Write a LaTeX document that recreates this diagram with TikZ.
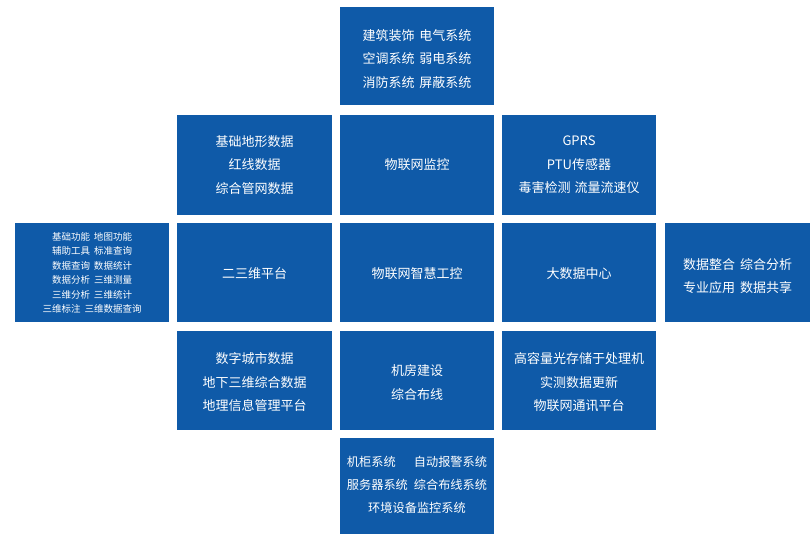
\documentclass[tikz,border=0pt]{standalone}
\usepackage{fontspec}
\newfontfamily\cjk{Noto Sans CJK SC}
\definecolor{boxblue}{RGB}{15,90,168}
\begin{document}
\begin{tikzpicture}[x=1pt,y=1pt,
  cell/.style={fill=boxblue, inner sep=0pt},
  txt/.style={text=white, inner sep=0pt, align=center,
    font=\cjk\fontsize{13}{23.5}\selectfont},
  smalltxt/.style={txt, font=\cjk\fontsize{9.5}{14.5}\selectfont},
  wA/.style={minimum width=154pt},
  wB/.style={minimum width=155pt},
  wE/.style={minimum width=145pt},
]
\useasboundingbox[fill=white] (0,0) rectangle (810,534);
% row 0
\node[cell, wA, minimum height=98pt] (top) at (417,478) {};
\node[txt] (topT) at ([yshift=-3pt]top.center)
  {建筑装饰\hspace{5pt}电气系统\\空调系统\hspace{5pt}弱电系统\\消防系统\hspace{5pt}屏蔽系统};
% row 1
\node[cell, wB, minimum height=100pt] (r1a) at (254.5,369) {};
\node[txt] (r1aT) at (r1a.center) {基础地形数据\\红线数据\\综合管网数据};
\node[cell, wA, minimum height=100pt] (r1b) at (417,369) {};
\node[txt] (r1bT) at (r1b.center) {物联网监控};
\node[cell, wA, minimum height=100pt] (r1c) at (579,369) {};
\node[txt] (r1cT) at (r1c.center) {GPRS\\PTU传感器\\毒害检测\hspace{4pt}流量流速仪};
% row 2
\node[cell, wA, minimum height=99pt] (r2l) at (92,261.5) {};
\node[smalltxt] (r2lT) at ([yshift=-0.5pt]r2l.center)
  {基础功能\hspace{4pt}地图功能\\辅助工具\hspace{4pt}标准查询\\数据查询\hspace{4pt}数据统计\\数据分析\hspace{4pt}三维测量\\三维分析\hspace{4pt}三维统计\\三维标注\hspace{4pt}三维数据查询};
\node[cell, wB, minimum height=99pt] (r2a) at (254.5,261.5) {};
\node[txt] (r2aT) at ([yshift=-1pt]r2a.center) {二三维平台};
\node[cell, wA, minimum height=99pt] (r2b) at (417,261.5) {};
\node[txt] (r2bT) at ([yshift=-1pt]r2b.center) {物联网智慧工控};
\node[cell, wA, minimum height=99pt] (r2c) at (579,261.5) {};
\node[txt] (r2cT) at ([yshift=-1pt]r2c.center) {大数据中心};
\node[cell, wE, minimum height=99pt] (r2r) at (737.5,261.5) {};
\node[txt, font=\cjk\fontsize{13}{23}\selectfont] (r2rT) at ([yshift=-3.5pt]r2r.center)
  {数据整合\hspace{5pt}综合分析\\专业应用\hspace{5pt}数据共享};
% row 3
\node[cell, wB, minimum height=99pt] (r3a) at (254.5,153.5) {};
\node[txt] (r3aT) at ([yshift=-2pt]r3a.center) {数字城市数据\\地下三维综合数据\\地理信息管理平台};
\node[cell, wA, minimum height=99pt] (r3b) at (417,153.5) {};
\node[txt] (r3bT) at ([yshift=-2pt]r3b.center) {机房建设\\综合布线};
\node[cell, wA, minimum height=99pt] (r3c) at (579,153.5) {};
\node[txt] (r3cT) at ([yshift=-2pt]r3c.center) {高容量光存储于处理机\\实测数据更新\\物联网通讯平台};
% row 4
\node[cell, wA, minimum height=96pt] (bot) at (417,48) {};
\node[txt, font=\cjk\fontsize{12.2}{23}\selectfont] (botT) at ([yshift=1pt]bot.center)
  {\begin{tabular}{@{}l@{\hspace{6pt}}r@{}}
   机柜系统 & 自动报警系统\\
   服务器系统 & 综合布线系统\\
   \multicolumn{2}{c}{环境设备监控系统}
   \end{tabular}};
\end{tikzpicture}
\end{document}
